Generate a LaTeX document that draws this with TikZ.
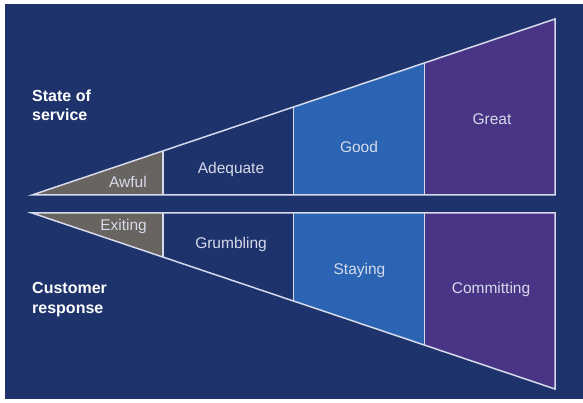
\documentclass[tikz,border=0pt]{standalone}
\usepackage{fontspec}
\setmainfont{Liberation Sans}
\usetikzlibrary{calc}
\definecolor{bgnavy}{RGB}{30,50,108}
\definecolor{segblue}{RGB}{42,100,178}
\definecolor{segpurple}{RGB}{74,52,134}
\definecolor{seggray}{RGB}{104,100,96}
\definecolor{edgeline}{RGB}{215,218,235}

\begin{document}
\begin{tikzpicture}[x=1pt,y=-1pt,
  edge/.style={draw=edgeline,line width=1.5pt},
  title/.style={text=white,font=\fontsize{16}{19.6}\selectfont\bfseries,align=left,anchor=base west,inner sep=0pt},
  seg/.style={text=edgeline,font=\fontsize{15.5}{18}\selectfont,anchor=base,inner sep=0pt}
]
\useasboundingbox (0,0) rectangle (583,403);
\fill[white] (0,0) rectangle (583,403);
\fill[bgnavy] (5,4) rectangle (583,399);

\coordinate (ua) at (32,195);
\coordinate (ut) at (555,19);
\coordinate (ub) at (555,195);
\coordinate (la) at (32,213);
\coordinate (lt) at (555,213);
\coordinate (lb) at (555,389);

\fill[seggray] (ua) -- ($(ua)!.25!(ut)$) -- ($(ua)!.25!(ub)$) -- cycle;
\fill[segblue] ($(ua)!.5!(ut)$) -- ($(ua)!.75!(ut)$) -- ($(ua)!.75!(ub)$) -- ($(ua)!.5!(ub)$) -- cycle;
\fill[segpurple] ($(ua)!.75!(ut)$) -- (ut) -- (ub) -- ($(ua)!.75!(ub)$) -- cycle;
\draw[edge] (ua) -- (ut) -- (ub) -- cycle;
\foreach \f in {.25,.5,.75}
  \draw[edge] ($(ua)!\f!(ut)$) -- ($(ua)!\f!(ub)$);

\fill[seggray] (la) -- ($(la)!.25!(lt)$) -- ($(la)!.25!(lb)$) -- cycle;
\fill[segblue] ($(la)!.5!(lt)$) -- ($(la)!.75!(lt)$) -- ($(la)!.75!(lb)$) -- ($(la)!.5!(lb)$) -- cycle;
\fill[segpurple] ($(la)!.75!(lt)$) -- (lt) -- (lb) -- ($(la)!.75!(lb)$) -- cycle;
\draw[edge] (la) -- (lt) -- (lb) -- cycle;
\foreach \f in {.25,.5,.75}
  \draw[edge] ($(la)!\f!(lt)$) -- ($(la)!\f!(lb)$);

\node[seg,anchor=base east] (awful) at (147,188) {Awful};
\node[seg] (adequate) at (231,174) {Adequate};
\node[seg] (good) at (359,153) {Good};
\node[seg] (great) at (492,125) {Great};
\node[seg,anchor=base east] (exiting) at (147,231) {Exiting};
\node[seg] (grumbling) at (231,248) {Grumbling};
\node[seg] (staying) at (359.5,274) {Staying};
\node[seg] (committing) at (491,293) {Committing};

\node[title] (state) at (32,121) {State of\\service};
\node[title] (customer) at (32,313) {Customer\\response};
\end{tikzpicture}
\end{document}
